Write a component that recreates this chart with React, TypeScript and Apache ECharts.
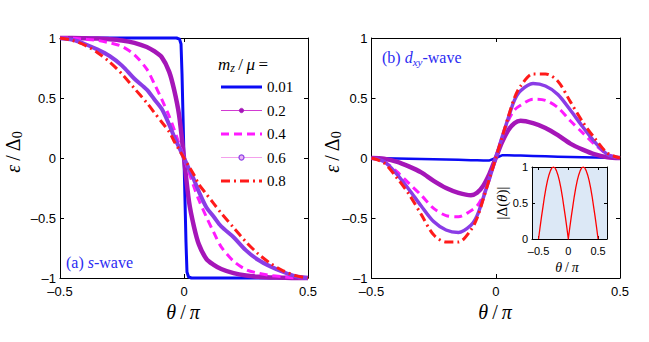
import React, { useEffect, useRef } from 'react';
import * as echarts from 'echarts';

// ---------- data ----------
const thetaS = [-0.5, -0.45, -0.4, -0.35, -0.3, -0.25, -0.2, -0.15, -0.12, -0.09, -0.06, -0.04, -0.02, 0, 0.02, 0.04, 0.06, 0.09, 0.12, 0.15, 0.2, 0.25, 0.3, 0.35, 0.4, 0.45, 0.5];
const thetaS001 = [-0.5, -0.03, -0.018, -0.012, -0.008, -0.004, 0, 0.004, 0.008, 0.012, 0.018, 0.03, 0.5];
const sWave001 = [1, 1, 0.99, 0.95, 0.7, 0.35, 0, -0.35, -0.7, -0.95, -0.99, -1, -1];
const sWave02 = [1.0, 1.0, 0.998, 0.995, 0.99, 0.98, 0.96, 0.925, 0.89, 0.84, 0.72, 0.57, 0.36, 0, -0.36, -0.57, -0.72, -0.84, -0.89, -0.925, -0.96, -0.98, -0.99, -0.995, -0.998, -1.0, -1.0];
const sWave04 = [1.0, 0.998, 0.99, 0.98, 0.96, 0.93, 0.86, 0.74, 0.62, 0.49, 0.35, 0.24, 0.12, 0, -0.12, -0.24, -0.35, -0.49, -0.62, -0.74, -0.86, -0.93, -0.96, -0.98, -0.99, -0.998, -1.0];
const sWave06 = [1.0, 0.985, 0.95, 0.905, 0.85, 0.77, 0.66, 0.57, 0.49, 0.41, 0.28, 0.18, 0.09, 0, -0.09, -0.18, -0.28, -0.41, -0.49, -0.57, -0.66, -0.77, -0.85, -0.905, -0.95, -0.985, -1.0];
const sWave08 = [1.0, 0.98, 0.94, 0.88, 0.8, 0.7, 0.58, 0.46, 0.38, 0.3, 0.22, 0.14, 0.07, 0, -0.07, -0.14, -0.22, -0.3, -0.38, -0.46, -0.58, -0.7, -0.8, -0.88, -0.94, -0.98, -1.0];

const thetaD = [-0.5, -0.45, -0.4, -0.35, -0.3, -0.25, -0.2, -0.15, -0.1, -0.075, -0.05, -0.025, 0, 0.025, 0.05, 0.075, 0.1, 0.15, 0.2, 0.25, 0.3, 0.35, 0.4, 0.45, 0.5];
const dWave001 = [0, -0.002, -0.004, -0.006, -0.008, -0.01, -0.012, -0.015, -0.018, -0.019, -0.02, -0.02, 0, 0.022, 0.022, 0.021, 0.02, 0.017, 0.014, 0.011, 0.008, 0.006, 0.004, 0.002, 0];
const dWave02 = [0, -0.006, -0.03, -0.07, -0.12, -0.19, -0.25, -0.29, -0.31, -0.29, -0.23, -0.13, 0, 0.13, 0.23, 0.29, 0.31, 0.29, 0.25, 0.19, 0.12, 0.07, 0.03, 0.006, 0];
const dWave04 = [0, -0.03, -0.11, -0.21, -0.31, -0.42, -0.48, -0.49, -0.44, -0.4, -0.31, -0.17, 0, 0.17, 0.31, 0.4, 0.44, 0.49, 0.48, 0.42, 0.31, 0.21, 0.11, 0.03, 0];
const dWave06 = [0, -0.03, -0.13, -0.26, -0.4, -0.53, -0.6, -0.62, -0.56, -0.48, -0.33, -0.17, 0, 0.17, 0.33, 0.48, 0.56, 0.62, 0.6, 0.53, 0.4, 0.26, 0.13, 0.03, 0];
const dWave08 = [0, -0.04, -0.16, -0.3, -0.47, -0.64, -0.7, -0.7, -0.6, -0.5, -0.34, -0.17, 0, 0.17, 0.34, 0.5, 0.6, 0.7, 0.7, 0.64, 0.47, 0.3, 0.16, 0.04, 0];

const insetTheta = [-0.5, -0.475, -0.45, -0.425, -0.4, -0.375, -0.35, -0.325, -0.3, -0.275, -0.25, -0.225, -0.2, -0.175, -0.15, -0.125, -0.1, -0.075, -0.05, -0.025, 0, 0.025, 0.05, 0.075, 0.1, 0.125, 0.15, 0.175, 0.2, 0.225, 0.25, 0.275, 0.3, 0.325, 0.35, 0.375, 0.4, 0.425, 0.45, 0.475, 0.5];
const insetGap = [0, 0.16, 0.31, 0.45, 0.59, 0.71, 0.81, 0.89, 0.95, 0.99, 1, 0.99, 0.95, 0.89, 0.81, 0.71, 0.59, 0.45, 0.31, 0.16, 0, 0.16, 0.31, 0.45, 0.59, 0.71, 0.81, 0.89, 0.95, 0.99, 1, 0.99, 0.95, 0.89, 0.81, 0.71, 0.59, 0.45, 0.31, 0.16, 0];

const legendLabels = ['0.01', '0.2', '0.4', '0.6', '0.8'];
const insetTicks = [-0.5, 0, 0.5];

// ---------- styles ----------
const C_BLUE = '#0b0bf5';
const C_PURPLE = '#a516b8';
const C_MAGENTA = '#ff1aff';
const C_VIOLET = '#8a3ce6';
const C_RED = '#ff1a1a';
const SERIF = 'Liberation Serif';
const SANS = 'Liberation Sans';

const fmt = (v: number) => (v === 0 ? '0' : String(v).replace('-', '\u2013'));

function xAxis(gridIndex: number, position: 'bottom' | 'top', labels: boolean, inset = false) {
  const base: any = {
    type: 'value',
    gridIndex,
    position,
    min: inset ? -0.61 : -0.5,
    max: inset ? 0.65 : 0.5,
    splitLine: { show: false },
    axisLine: { show: true, onZero: false, lineStyle: { color: '#000', width: 1 } },
    axisTick: { show: true, inside: true, length: inset ? 3 : 4, lineStyle: { color: '#000' } },
    axisLabel: {
      show: labels,
      formatter: fmt,
      color: '#000',
      fontFamily: SANS,
      fontSize: inset ? 11 : 13,
      margin: inset ? 6 : 7,
    },
  };
  if (inset) {
    base.axisTick.customValues = insetTicks;
    base.axisLabel.customValues = insetTicks;
  } else {
    base.interval = 0.5;
  }
  return base;
}

function yAxis(gridIndex: number, position: 'left' | 'right', labels: boolean, inset = false) {
  return {
    type: 'value',
    gridIndex,
    position,
    min: inset ? 0 : -1,
    max: 1,
    interval: 0.5,
    splitLine: { show: false },
    axisLine: { show: true, onZero: false, lineStyle: { color: '#000', width: 1 } },
    axisTick: { show: true, inside: true, length: inset ? 3 : 4, lineStyle: { color: '#000' } },
    axisLabel: {
      show: labels,
      formatter: fmt,
      color: '#000',
      fontFamily: SANS,
      fontSize: inset ? 11 : 13,
      margin: 4,
    },
  };
}

function pairs(xs: number[], ys: number[]) {
  return xs.map((x, i) => [x, ys[i]]);
}

function lineSeries(name: string, axis: number, data: number[][], color: string, width: number, type: any, smooth: any) {
  return {
    name,
    type: 'line',
    xAxisIndex: axis,
    yAxisIndex: axis,
    data,
    showSymbol: false,
    symbol: 'none',
    smooth,
    clip: false,
    lineStyle: { color, width, type, cap: 'butt', join: 'round' },
    emphasis: { disabled: true },
  };
}

function buildOption() {
  const series: any[] = [
    lineSeries('0.01', 0, pairs(thetaS001, sWave001), C_BLUE, 3, 'solid', false),
    lineSeries('0.2', 0, pairs(thetaS, sWave02), C_PURPLE, 4.5, 'solid', 0.3),
    lineSeries('0.4', 0, pairs(thetaS, sWave04), C_MAGENTA, 3, [8, 5], 0.3),
    lineSeries('0.6', 0, pairs(thetaS, sWave06), C_VIOLET, 4, 'solid', 0.3),
    lineSeries('0.8', 0, pairs(thetaS, sWave08), C_RED, 3, [9, 4, 2, 4], 0.3),

    lineSeries('d0.01', 2, pairs(thetaD, dWave001), C_BLUE, 2.5, 'solid', false),
    lineSeries('d0.2', 2, pairs(thetaD, dWave02), C_PURPLE, 4.5, 'solid', 0.3),
    lineSeries('d0.4', 2, pairs(thetaD, dWave04), C_MAGENTA, 3, [8, 5], 0.3),
    lineSeries('d0.6', 2, pairs(thetaD, dWave06), C_VIOLET, 3.5, 'solid', 0.3),
    lineSeries('d0.8', 2, pairs(thetaD, dWave08), C_RED, 3, [9, 4, 2, 4], 0.3),

    lineSeries('inset', 4, pairs(insetTheta, insetGap), '#ff0000', 1.3, 'solid', false),
  ];
  series[series.length - 1].clip = true;

  const legendRows = [87, 110.5, 134, 157.5, 181];
  const lx1 = 221, lx2 = 262, lmid = (lx1 + lx2) / 2;
  const legendStyles = [
    { stroke: C_BLUE, lineWidth: 3 },
    { stroke: '#d23ad2', lineWidth: 1 },
    { stroke: C_MAGENTA, lineWidth: 3, lineDash: [8, 5] },
    { stroke: '#f4a0ec', lineWidth: 1 },
    { stroke: C_RED, lineWidth: 3, lineDash: [9, 4, 2, 4] },
  ];
  const graphic: any[] = [];
  legendLabels.forEach((lab, i) => {
    const y = legendRows[i];
    graphic.push({ type: 'line', silent: true, shape: { x1: lx1, y1: y, x2: lx2, y2: y }, style: legendStyles[i] });
    if (i === 1) graphic.push({ type: 'circle', silent: true, shape: { cx: lmid, cy: y, r: 2.3 }, style: { fill: C_PURPLE, stroke: C_PURPLE, lineWidth: 0.5 } });
    if (i === 3) graphic.push({ type: 'circle', silent: true, shape: { cx: lmid, cy: y, r: 2.5 }, style: { fill: '#e9b4f4', stroke: C_VIOLET, lineWidth: 1.2 } });
    graphic.push({
      type: 'text', silent: true, x: 267, y,
      style: { text: lab, fill: '#000', fontFamily: SERIF, fontSize: 15, textVerticalAlign: 'middle' },
    });
  });

  const it = { fontFamily: SERIF, fontStyle: 'italic', fontSize: 17, fill: '#000', lineHeight: 20 };
  const nt = { fontFamily: SERIF, fontSize: 17, fill: '#000', lineHeight: 20 };
  graphic.push({
    type: 'text', silent: true, x: 218, y: 64,
    style: {
      text: '{i|m}{s|z}{n|\u2009/\u2009}{i|μ}{n|\u2009=}', textVerticalAlign: 'middle',
      rich: { i: it, n: nt, s: { fontFamily: SERIF, fontStyle: 'italic', fontSize: 12, fill: '#000', verticalAlign: 'bottom', lineHeight: 20 } },
    },
  });

  const yLab = (x: number) => ({
    type: 'text', silent: true, x, y: 152, rotation: Math.PI / 2,
    style: {
      text: '{i|ε}{n|\u2009/\u2009}{n|Δ}{s|0}', textAlign: 'center', textVerticalAlign: 'middle',
      rich: {
        i: { fontFamily: SERIF, fontStyle: 'italic', fontSize: 20, fill: '#000', lineHeight: 22 },
        n: { fontFamily: SERIF, fontSize: 20, fill: '#000', lineHeight: 22 },
        s: { fontFamily: SERIF, fontSize: 14, fill: '#000', verticalAlign: 'bottom', lineHeight: 22 },
      },
    },
  });
  const xLab = (x: number, y: number, size: number) => ({
    type: 'text', silent: true, x, y,
    style: {
      text: '{i|θ}{n|\u2009/\u2009}{i|π}', textAlign: 'center', textVerticalAlign: 'middle',
      rich: {
        i: { fontFamily: SERIF, fontStyle: 'italic', fontSize: size, fill: '#000' },
        n: { fontFamily: SERIF, fontSize: size, fill: '#000' },
      },
    },
  });
  graphic.push(yLab(13), yLab(332));
  graphic.push(xLab(183, 312, 20), xLab(495, 312, 20), xLab(567, 267, 14));

  graphic.push({
    type: 'text', silent: true, x: 502, y: 203, rotation: Math.PI / 2,
    style: {
      text: '{n||Δ(}{i|θ}{n|)|}', textAlign: 'center', textVerticalAlign: 'middle',
      rich: {
        i: { fontFamily: SERIF, fontStyle: 'italic', fontSize: 15, fill: '#000' },
        n: { fontFamily: SERIF, fontSize: 15, fill: '#000' },
      },
    },
  });

  const blueText = '#2b2bf2';
  graphic.push({
    type: 'text', silent: true, x: 66, y: 262,
    style: {
      text: '{n|(a) }{i|s}{n|-wave}', textVerticalAlign: 'middle',
      rich: {
        n: { fontFamily: SERIF, fontSize: 16, fill: blueText },
        i: { fontFamily: SERIF, fontStyle: 'italic', fontSize: 16, fill: blueText },
      },
    },
  });
  graphic.push({
    type: 'text', silent: true, x: 382, y: 57,
    style: {
      text: '{n|(b) }{i|d}{s|xy}{n|-wave}', textVerticalAlign: 'middle',
      rich: {
        n: { fontFamily: SERIF, fontSize: 16, fill: blueText, lineHeight: 20 },
        i: { fontFamily: SERIF, fontStyle: 'italic', fontSize: 16, fill: blueText, lineHeight: 20 },
        s: { fontFamily: SERIF, fontStyle: 'italic', fontSize: 11, fill: blueText, verticalAlign: 'bottom', lineHeight: 20 },
      },
    },
  });

  return {
    animation: false,
    backgroundColor: '#ffffff',
    grid: [
      { left: 60, top: 38, width: 248, height: 240 },
      { left: 371.5, top: 38, width: 248.5, height: 240 },
      { left: 532, top: 167, width: 75, height: 72, show: true, backgroundColor: '#dce8f6', borderWidth: 0 },
    ],
    xAxis: [
      xAxis(0, 'bottom', true), xAxis(0, 'top', false),
      xAxis(1, 'bottom', true), xAxis(1, 'top', false),
      xAxis(2, 'bottom', true, true), xAxis(2, 'top', false, true),
    ],
    yAxis: [
      yAxis(0, 'left', true), yAxis(0, 'right', false),
      yAxis(1, 'left', true), yAxis(1, 'right', false),
      yAxis(2, 'left', true, true), yAxis(2, 'right', false, true),
    ],
    series,
    graphic,
  };
}

export default function App() {
  const ref = useRef<HTMLDivElement>(null);
  useEffect(() => {
    if (!ref.current) return;
    const chart = echarts.init(ref.current, null, { renderer: 'svg' });
    chart.setOption(buildOption() as any);
    return () => chart.dispose();
  }, []);
  return <div ref={ref} style={{ position: 'fixed', left: 0, top: 0, width: 649, height: 342, background: '#fff' }} />;
}
